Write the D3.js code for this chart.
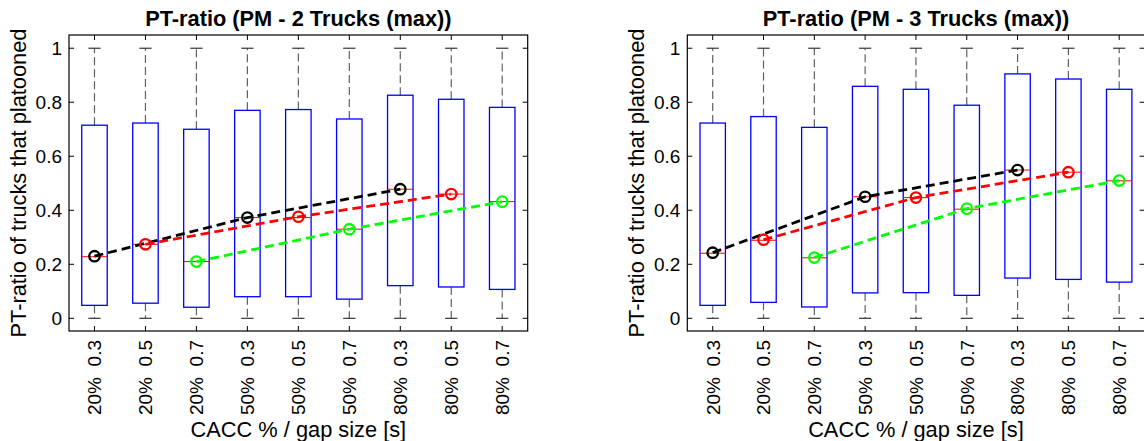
<!DOCTYPE html>
<html>
<head>
<meta charset="utf-8">
<script src="https://cdn.jsdelivr.net/npm/d3@7"></script>
<style>
  html, body { margin: 0; padding: 0; background: #fff; }
  svg { display: block; }
  text { font-family: "Liberation Sans", Arial, Helvetica, sans-serif; fill: #000; }
</style>
</head>
<body>
<svg id="chart" width="1144" height="441"></svg>
<script>
// ---------------- DATA ----------------
const gapLabels  = ["0.3", "0.5", "0.7", "0.3", "0.5", "0.7", "0.3", "0.5", "0.7"];
const caccLabels = ["20%", "20%", "20%", "50%", "50%", "50%", "80%", "80%", "80%"];
const yTicks = [0, 0.2, 0.4, 0.6, 0.8, 1];
const yTickLabels = ["0", "0.2", "0.4", "0.6", "0.8", "1"];

// Chart 1: PM - 2 Trucks (max)
const title2 = "PT-ratio (PM - 2 Trucks (max))";
const whiskerLow2  = [0, 0, 0, 0, 0, 0, 0, 0, 0];
const q1_2         = [0.048, 0.056, 0.041, 0.080, 0.080, 0.071, 0.121, 0.116, 0.107];
const median2      = [0.228, 0.274, 0.210, 0.373, 0.373, 0.330, 0.478, 0.460, 0.432];
const q3_2         = [0.715, 0.723, 0.700, 0.770, 0.773, 0.738, 0.826, 0.811, 0.781];
const whiskerHigh2 = [1, 1, 1, 1, 1, 1, 1, 1, 1];
const gap03_2 = [0.230, 0.373, 0.478];   // positions 1,4,7
const gap05_2 = [0.274, 0.376, 0.460];   // positions 2,5,8
const gap07_2 = [0.210, 0.330, 0.432];   // positions 3,6,9

// Chart 2: PM - 3 Trucks (max)
const title3 = "PT-ratio (PM - 3 Trucks (max))";
const whiskerLow3  = [0, 0, 0, 0, 0, 0, 0, 0, 0];
const q1_3         = [0.048, 0.059, 0.042, 0.094, 0.095, 0.085, 0.149, 0.144, 0.134];
const median3      = [0.241, 0.289, 0.224, 0.450, 0.447, 0.404, 0.549, 0.541, 0.509];
const q3_3         = [0.723, 0.747, 0.707, 0.859, 0.848, 0.789, 0.905, 0.886, 0.848];
const whiskerHigh3 = [1, 1, 1, 1, 1, 1, 1, 1, 1];
const gap03_3 = [0.243, 0.450, 0.549];
const gap05_3 = [0.291, 0.447, 0.541];
const gap07_3 = [0.225, 0.406, 0.510];

const xLabel = "CACC % / gap size [s]";
const yLabel = "PT-ratio of trucks that platooned";

// ---------------- DRAW ----------------
const svg = d3.select("#chart");

function drawPanel(cfg) {
  const {left, right, top, bottom, title, lo, q1, med, q3, hi, lines} = cfg;
  const n = q1.length;
  const x = d3.scaleLinear().domain([0.5, n + 0.5]).range([left, right]);
  const y = d3.scaleLinear().domain([-0.047, 1.049]).range([bottom, top]);
  const g = svg.append("g");
  const idx = d3.range(n);
  const boxHalf = 0.25, capHalf = 0.12;

  // whiskers (dashed)
  g.selectAll(".wu").data(idx).join("line")
    .attr("x1", i => x(i + 1)).attr("x2", i => x(i + 1))
    .attr("y1", i => y(q3[i])).attr("y2", i => y(hi[i]))
    .attr("stroke", "#606060").attr("stroke-width", 1.2).attr("stroke-dasharray", "8,4");
  g.selectAll(".wl").data(idx).join("line")
    .attr("x1", i => x(i + 1)).attr("x2", i => x(i + 1))
    .attr("y1", i => y(q1[i])).attr("y2", i => y(lo[i]))
    .attr("stroke", "#606060").attr("stroke-width", 1.2).attr("stroke-dasharray", "8,4");
  // caps
  g.selectAll(".cu").data(idx).join("line")
    .attr("x1", i => x(i + 1 - capHalf)).attr("x2", i => x(i + 1 + capHalf))
    .attr("y1", i => y(hi[i])).attr("y2", i => y(hi[i]))
    .attr("stroke", "#333").attr("stroke-width", 1.2);
  g.selectAll(".cl").data(idx).join("line")
    .attr("x1", i => x(i + 1 - capHalf)).attr("x2", i => x(i + 1 + capHalf))
    .attr("y1", i => y(lo[i])).attr("y2", i => y(lo[i]))
    .attr("stroke", "#333").attr("stroke-width", 1.2);
  // boxes
  g.selectAll(".box").data(idx).join("rect")
    .attr("x", i => x(i + 1 - boxHalf))
    .attr("width", i => x(i + 1 + boxHalf) - x(i + 1 - boxHalf))
    .attr("y", i => y(q3[i]))
    .attr("height", i => y(q1[i]) - y(q3[i]))
    .attr("fill", "none").attr("stroke", "#0000ff").attr("stroke-width", 1.3);
  // medians
  g.selectAll(".med").data(idx).join("line")
    .attr("x1", i => x(i + 1 - boxHalf)).attr("x2", i => x(i + 1 + boxHalf))
    .attr("y1", i => y(med[i])).attr("y2", i => y(med[i]))
    .attr("stroke", "#ff0000").attr("stroke-width", 1);

  // dashed series lines with circle markers
  lines.forEach(s => {
    const pts = s.values.map((v, k) => [x(s.pos[k]), y(v)]);
    g.append("path")
      .attr("d", d3.line()(pts))
      .attr("fill", "none").attr("stroke", s.color)
      .attr("stroke-width", 2.8).attr("stroke-dasharray", "9,5");
    g.selectAll(null).data(pts).join("circle")
      .attr("cx", d => d[0]).attr("cy", d => d[1]).attr("r", 5.2)
      .attr("fill", "none").attr("stroke", s.color).attr("stroke-width", 2.3);
  });

  // frame
  g.append("rect")
    .attr("x", left).attr("y", top)
    .attr("width", right - left).attr("height", bottom - top)
    .attr("fill", "none").attr("stroke", "#000").attr("stroke-width", 1.2);

  // ticks inward
  const tl = 5;
  yTicks.forEach(t => {
    g.append("line").attr("x1", left).attr("x2", left + tl).attr("y1", y(t)).attr("y2", y(t)).attr("stroke", "#000");
    g.append("line").attr("x1", right).attr("x2", right - tl).attr("y1", y(t)).attr("y2", y(t)).attr("stroke", "#000");
  });
  idx.forEach(i => {
    g.append("line").attr("x1", x(i + 1)).attr("x2", x(i + 1)).attr("y1", bottom).attr("y2", bottom - tl).attr("stroke", "#000");
    g.append("line").attr("x1", x(i + 1)).attr("x2", x(i + 1)).attr("y1", top).attr("y2", top + tl).attr("stroke", "#000");
  });

  // y tick labels
  g.selectAll(".ytl").data(yTicks).join("text")
    .attr("x", left - 7).attr("y", d => y(d)).attr("dy", "0.36em")
    .attr("text-anchor", "end").attr("font-size", "19px")
    .text((d, i) => yTickLabels[i]);

  // x tick labels (two rows, rotated)
  idx.forEach(i => {
    g.append("text")
      .attr("transform", `translate(${x(i + 1)},340) rotate(-90)`)
      .attr("text-anchor", "end").attr("dy", "0.36em").attr("font-size", "19px")
      .text(gapLabels[i]);
    g.append("text")
      .attr("transform", `translate(${x(i + 1)},377) rotate(-90)`)
      .attr("text-anchor", "end").attr("dy", "0.36em").attr("font-size", "19px")
      .text(caccLabels[i]);
  });

  // title
  g.append("text")
    .attr("x", (left + right) / 2).attr("y", 26)
    .attr("text-anchor", "middle").attr("font-size", "21.8px").attr("font-weight", "bold")
    .text(title);
  // x label
  g.append("text")
    .attr("x", (left + right) / 2).attr("y", 437)
    .attr("text-anchor", "middle").attr("font-size", "21.8px")
    .text(xLabel);
  // y label
  g.append("text")
    .attr("transform", `translate(${left - 51},${(top + bottom) / 2}) rotate(-90)`)
    .attr("text-anchor", "middle").attr("dy", "0.36em").attr("font-size", "21.8px")
    .text(yLabel);
}

drawPanel({
  left: 69, right: 527.7, top: 35, bottom: 331, title: title2,
  lo: whiskerLow2, q1: q1_2, med: median2, q3: q3_2, hi: whiskerHigh2,
  lines: [
    {values: gap03_2, pos: [1, 4, 7], color: "#000000"},
    {values: gap05_2, pos: [2, 5, 8], color: "#ff0000"},
    {values: gap07_2, pos: [3, 6, 9], color: "#00ff00"}
  ]
});
drawPanel({
  left: 687.3, right: 1144.6, top: 35, bottom: 331, title: title3,
  lo: whiskerLow3, q1: q1_3, med: median3, q3: q3_3, hi: whiskerHigh3,
  lines: [
    {values: gap03_3, pos: [1, 4, 7], color: "#000000"},
    {values: gap05_3, pos: [2, 5, 8], color: "#ff0000"},
    {values: gap07_3, pos: [3, 6, 9], color: "#00ff00"}
  ]
});
</script>
</body>
</html>
